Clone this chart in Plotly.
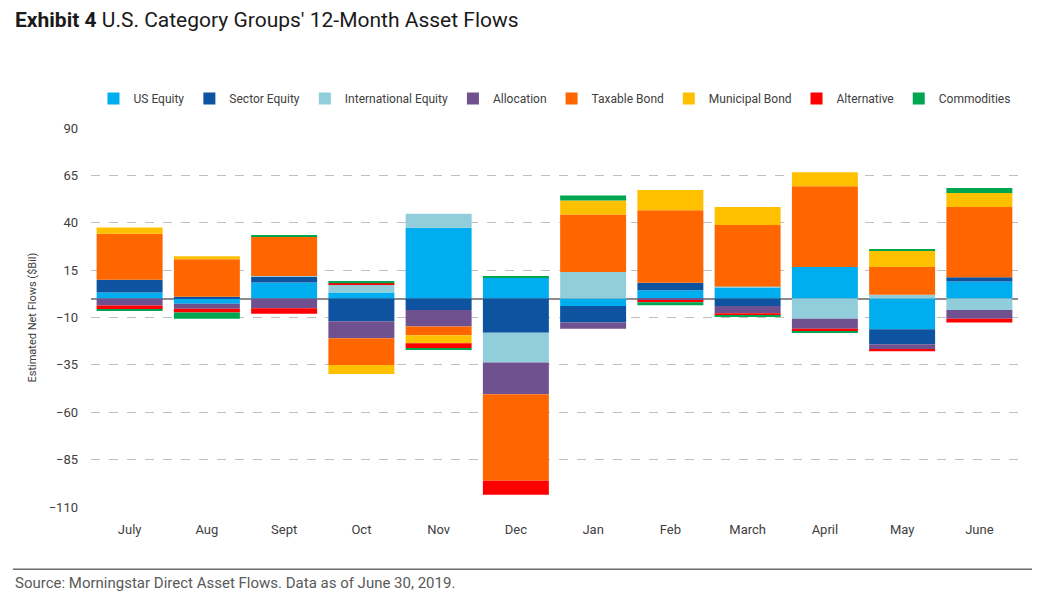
import plotly.graph_objects as go

# monthly net flows by category group, $Bil
months = ['July', 'Aug', 'Sept', 'Oct', 'Nov', 'Dec', 'Jan', 'Feb', 'March', 'April', 'May', 'June']

us_equity = [3.2, -2.8, 8.5, 3.2, 37.4, 11.3, -3.9, 4.4, 6.0, 16.6, -16.2, 9.0]
sector_equity = [6.7, 1.0, 3.1, -12.0, -6.0, -18.0, -8.8, 4.0, -3.9, 0.0, -7.9, 2.3]
intl_equity = [0.0, 0.0, 0.3, 4.1, 7.4, -15.8, 14.0, 0.0, 0.3, -10.7, 2.0, -6.0]
allocation = [-3.7, -2.6, -5.1, -8.9, -8.8, -16.7, -3.3, -1.0, -3.8, -5.3, -2.5, -4.6]
taxable_bond = [24.3, 19.7, 20.7, -14.1, -4.6, -45.7, 30.4, 38.2, 32.5, 42.6, 14.6, 37.0]
muni_bond = [3.3, 1.6, 0.0, -4.8, -4.2, 0.0, 7.4, 10.7, 9.5, 7.4, 8.8, 7.4]
alternative = [-1.9, -2.0, -2.9, 0.8, -2.6, -7.4, 0.0, -1.0, -1.4, -1.4, -1.2, -2.1]
commodities = [-0.6, -3.2, 0.7, 1.2, -0.7, 0.3, 2.6, -1.5, -0.7, -0.6, 0.7, 2.7]

y_ticks = [90, 65, 40, 15, -10, -35, -60, -85, -110]

series = [
    ('US Equity', us_equity, '#00AEEF'),
    ('Sector Equity', sector_equity, '#0D539F'),
    ('International Equity', intl_equity, '#92CDDC'),
    ('Allocation', allocation, '#6F5190'),
    ('Taxable Bond', taxable_bond, '#FF6600'),
    ('Municipal Bond', muni_bond, '#FFC000'),
    ('Alternative', alternative, '#FF0000'),
    ('Commodities', commodities, '#00A650'),
]

font_main = 'Roboto, Arial, sans-serif'

fig = go.Figure()
for name, vals, col in series:
    fig.add_trace(go.Bar(
        x=months, y=vals, name=name,
        marker=dict(color=col, line=dict(width=0)),
    ))

# page body adds an 8px margin, so the plot box is nudged up/left to compensate
fig.update_layout(
    barmode='relative',
    bargap=0.146,
    width=1040, height=605,
    margin=dict(l=83, r=30, t=120, b=106, autoexpand=False),
    paper_bgcolor='white', plot_bgcolor='white',
    font=dict(family=font_main, size=13, color='#333333'),
    showlegend=True,
    legend=dict(
        orientation='h', x=0.5, xanchor='center', y=1.078, yanchor='middle',
        font=dict(size=12, color='#404040'), itemwidth=30,
        traceorder='normal',
    ),
)

fig.update_xaxes(
    showgrid=False, showline=False, ticks='', zeroline=False, automargin=False,
    tickfont=dict(size=13, color='#404040'), ticklabelstandoff=13,
)
fig.update_yaxes(
    range=[-110, 90], tickvals=y_ticks, automargin=False,
    showgrid=True, gridcolor='#BFBFBF', griddash='dash', gridwidth=1,
    zeroline=True, zerolinecolor='#8C8C8C', zerolinewidth=1.5,
    showline=False, ticks='',
    tickfont=dict(size=13, color='#404040'), ticklabelstandoff=12,
)

# y-axis title, chart title and source footer
fig.add_annotation(
    xref='paper', yref='paper', x=-0.0636, y=0.5, xanchor='center', yanchor='middle',
    text='Estimated Net Flows ($Bil)', textangle=-90,
    showarrow=False, font=dict(size=11, color='#404040'),
)
fig.add_annotation(
    xref='paper', yref='paper', x=-0.0842, y=1.285, xanchor='left', yanchor='middle',
    text='<b>Exhibit 4</b> U.S. Category Groups\' 12-Month Asset Flows',
    showarrow=False, font=dict(size=21, color='#1a1a1a'),
)
fig.add_shape(
    type='line', xref='paper', yref='paper', x0=-0.0842, x1=1.04, y0=-0.164, y1=-0.164,
    line=dict(color='#222222', width=1),
)
fig.add_annotation(
    xref='paper', yref='paper', x=-0.0842, y=-0.2, xanchor='left', yanchor='middle',
    text='Source: Morningstar Direct Asset Flows. Data as of June 30, 2019.',
    showarrow=False, font=dict(size=15, color='#595959'),
)

fig.write_html('out.html')
